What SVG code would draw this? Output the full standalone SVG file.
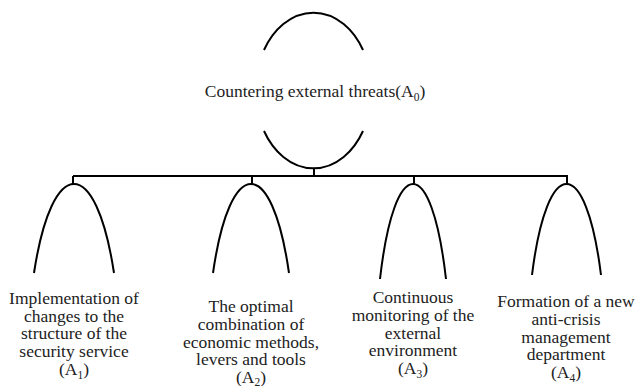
<svg xmlns="http://www.w3.org/2000/svg" width="637" height="386" viewBox="0 0 637 386">
<style>
.arc{fill:none;stroke:#000;stroke-width:2}
.conn{fill:none;stroke:#000;stroke-width:2}
.lbl{fill:#222;text-anchor:middle}
.sub{font-size:11.5px}
</style>
<rect width="637" height="386" fill="#fff"/>
<g id="connectors">
<path class="conn" d="M314,168 V176 M73,176 H568 M73,176 V184 M252,176 V184 M414,176 V184 M567,176 V184"/>
</g>
<g font-family="Liberation Serif, Times New Roman, serif" font-size="17.5">
<g id="A0">
<path class="arc" d="M264,50 A58,78 0 0 1 363,50"/>
<path class="arc" d="M264,131 A58,78 0 0 0 363,131"/>
<text class="lbl" x="315" y="97">Countering external threats(A<tspan class="sub" dy="4">0</tspan><tspan dy="-4">)</tspan></text>
</g>
<g id="A1">
<path class="arc" d="M34,273 C52,154.3 96,154.3 114,273"/>
<text class="lbl" x="74" y="304">Implementation of</text>
<text class="lbl" x="74" y="321.7">changes to the</text>
<text class="lbl" x="74" y="339.4">structure of the</text>
<text class="lbl" x="74" y="357.1">security service</text>
<text class="lbl" x="74" y="374.8">(A<tspan class="sub" dy="4">1</tspan><tspan dy="-4">)</tspan></text>
</g>
<g id="A2">
<path class="arc" d="M213,273 C230,154.3 272,154.3 289,273"/>
<text class="lbl" x="251" y="312.3">The optimal</text>
<text class="lbl" x="251" y="330">combination of</text>
<text class="lbl" x="251" y="347.7">economic methods,</text>
<text class="lbl" x="251" y="365.4">levers and tools</text>
<text class="lbl" x="251" y="382.5">(A<tspan class="sub" dy="3">2</tspan><tspan dy="-3">)</tspan></text>
</g>
<g id="A3">
<path class="arc" d="M380,279 C394.5,152.3 431.5,152.3 446,279"/>
<text class="lbl" x="413" y="303.3">Continuous</text>
<text class="lbl" x="413" y="321">monitoring of the</text>
<text class="lbl" x="413" y="338.7">external</text>
<text class="lbl" x="413" y="356.4">environment</text>
<text class="lbl" x="413" y="374.1">(A<tspan class="sub" dy="4">3</tspan><tspan dy="-4">)</tspan></text>
</g>
<g id="A4">
<path class="arc" d="M532,275 C547,153.7 586,153.7 601,275"/>
<text class="lbl" x="566" y="307.3">Formation of a new</text>
<text class="lbl" x="566" y="325">anti-crisis</text>
<text class="lbl" x="566" y="342.7">management</text>
<text class="lbl" x="566" y="360.4">department</text>
<text class="lbl" x="566" y="378.1">(A<tspan class="sub" dy="4">4</tspan><tspan dy="-4">)</tspan></text>
</g>
</g>
</svg>
